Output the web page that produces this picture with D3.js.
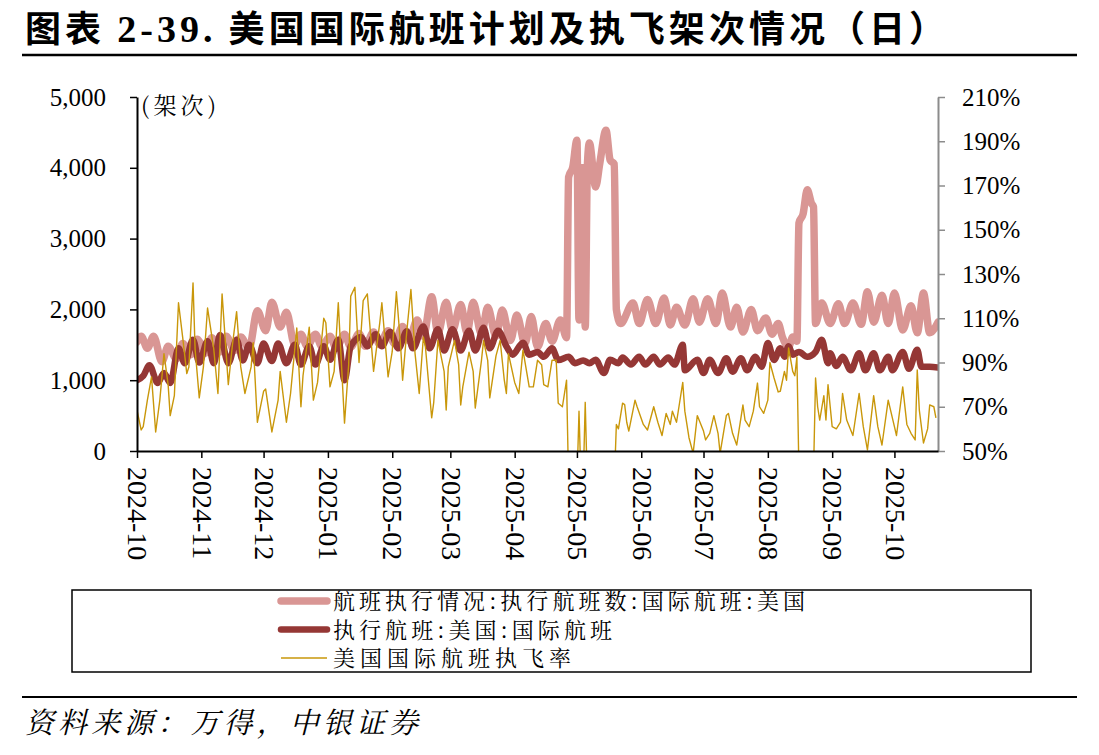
<!DOCTYPE html>
<html><head><meta charset="utf-8">
<script src="https://cdn.jsdelivr.net/npm/d3@7"></script>
<style>body{margin:0;background:#fff}svg{display:block}</style>
</head><body><svg id="c" width="1099" height="755"></svg>
<script>
// ---------- DATA ----------
const titleText = "美国国际航班计划及执飞架次情况（日）";
const seriesNames = ["航班执行情况:执行航班数:国际航班:美国", "执行航班:美国:国际航班", "美国国际航班执飞率"];
const leftTicks = [0, 1000, 2000, 3000, 4000, 5000];
const rightTicks = [50, 70, 90, 110, 130, 150, 170, 190, 210];
const monthTicks = ["2024-10","2024-11","2024-12","2025-01","2025-02","2025-03","2025-04","2025-05","2025-06","2025-07","2025-08","2025-09","2025-10"];

// 航班执行情况:执行航班数:国际航班:美国 (left axis)
const pinkDates = ["2024-10-01","2024-10-03","2024-10-06","2024-10-09","2024-10-13","2024-10-16","2024-10-20","2024-10-23","2024-10-27","2024-10-30",
"2024-11-03","2024-11-06","2024-11-10","2024-11-13","2024-11-17","2024-11-20","2024-11-24","2024-11-28",
"2024-12-02","2024-12-05","2024-12-09","2024-12-12","2024-12-16","2024-12-19","2024-12-22","2024-12-26","2024-12-29",
"2025-01-02","2025-01-05","2025-01-09","2025-01-12","2025-01-16","2025-01-19","2025-01-23","2025-01-26","2025-01-30",
"2025-02-02","2025-02-06","2025-02-09","2025-02-13","2025-02-16","2025-02-20","2025-02-23","2025-02-27",
"2025-03-02","2025-03-06","2025-03-09","2025-03-12","2025-03-16","2025-03-19","2025-03-23","2025-03-26","2025-03-30",
"2025-04-02","2025-04-06","2025-04-09","2025-04-12","2025-04-16","2025-04-19","2025-04-23","2025-04-26",
"2025-04-27","2025-04-29","2025-05-01","2025-05-02","2025-05-03","2025-05-04","2025-05-05","2025-05-06","2025-05-07","2025-05-10","2025-05-12","2025-05-15","2025-05-17","2025-05-19","2025-05-20",
"2025-05-22","2025-05-28","2025-05-31",
"2025-06-04","2025-06-08","2025-06-12","2025-06-15","2025-06-18","2025-06-22","2025-06-26","2025-06-29",
"2025-07-03","2025-07-07","2025-07-10","2025-07-14","2025-07-17","2025-07-20","2025-07-24","2025-07-27","2025-07-31",
"2025-08-03","2025-08-06","2025-08-08","2025-08-11","2025-08-13","2025-08-15","2025-08-16","2025-08-18","2025-08-20","2025-08-22","2025-08-23","2025-08-24","2025-08-27","2025-08-31",
"2025-09-04","2025-09-07","2025-09-11","2025-09-15","2025-09-18","2025-09-21","2025-09-25","2025-09-28",
"2025-10-01","2025-10-05","2025-10-09","2025-10-12","2025-10-15","2025-10-18","2025-10-22"];
const pinkValues = [1540,1620,1450,1620,1260,1480,1300,1520,1360,1580,
1380,1600,1400,1620,1420,1610,1450,1980,
1700,2100,1750,1960,1500,1650,1480,1650,1480,
1620,1450,1650,1470,1660,1480,1680,1500,1700,
1520,1760,1560,1850,1620,2180,1670,2100,
1700,2070,1670,2100,1650,2030,1620,1990,1560,
1920,1520,1900,1470,1800,1550,1850,1600,
3870,4010,4390,1850,4000,4000,1750,4000,4350,3730,4060,4530,4110,4050,2000,
1800,2090,1800,
2140,1800,2160,1780,2030,1780,2150,1820,
2150,1800,2230,1750,2030,1680,2000,1700,1880,
1650,1800,1610,1470,1610,1550,3220,3350,3690,3500,3450,1800,2090,1800,
2080,1800,2090,1790,2250,1820,2200,1800,
2230,1710,2050,1670,2230,1670,1820];

// 执行航班:美国:国际航班 (left axis)
const redDates = ["2024-10-01","2024-10-04","2024-10-07","2024-10-11","2024-10-14","2024-10-17","2024-10-21","2024-10-24","2024-10-28","2024-10-31",
"2024-11-04","2024-11-07","2024-11-10","2024-11-14","2024-11-18","2024-11-21","2024-11-24","2024-11-28",
"2024-12-01","2024-12-05","2024-12-08","2024-12-12","2024-12-16","2024-12-19","2024-12-23","2024-12-26","2024-12-30",
"2025-01-02","2025-01-06","2025-01-09","2025-01-12","2025-01-17","2025-01-20","2025-01-24","2025-01-27","2025-01-31",
"2025-02-04","2025-02-08","2025-02-11","2025-02-16","2025-02-19","2025-02-23","2025-02-26",
"2025-03-02","2025-03-06","2025-03-10","2025-03-13","2025-03-17","2025-03-20","2025-03-24","2025-03-28","2025-03-31",
"2025-04-05","2025-04-08","2025-04-12","2025-04-15","2025-04-19","2025-04-22","2025-04-27","2025-04-30",
"2025-05-04","2025-05-07","2025-05-10","2025-05-14","2025-05-17","2025-05-21","2025-05-23","2025-05-27","2025-05-31",
"2025-06-03","2025-06-07","2025-06-10","2025-06-14","2025-06-17","2025-06-21","2025-06-22","2025-06-28",
"2025-07-01","2025-07-04","2025-07-08","2025-07-12","2025-07-15","2025-07-19","2025-07-22","2025-07-26","2025-07-29",
"2025-08-01","2025-08-04","2025-08-07","2025-08-09","2025-08-11","2025-08-13","2025-08-16","2025-08-20","2025-08-24","2025-08-27","2025-08-30","2025-08-31",
"2025-09-03","2025-09-06","2025-09-10","2025-09-14","2025-09-17","2025-09-21","2025-09-24","2025-09-28","2025-09-30",
"2025-10-05","2025-10-08","2025-10-12","2025-10-14","2025-10-18","2025-10-22"];
const redValues = [1000,1060,1210,960,1100,960,1450,1240,1570,1250,
1550,1240,1640,1240,1570,1280,1500,1240,
1520,1270,1520,1240,1500,1220,1480,1220,1480,
1290,1570,1000,1480,1610,1480,1650,1480,1680,
1450,1690,1450,1760,1450,1720,1420,
1720,1420,1700,1420,1740,1450,1700,1480,1360,
1530,1360,1400,1330,1450,1285,1330,1240,
1280,1240,1290,1100,1290,1240,1320,1220,1330,
1220,1330,1220,1320,1220,1500,1140,1290,
1100,1290,1100,1310,1120,1310,1140,1330,1190,
1525,1285,1450,1330,1480,1360,1400,1330,1400,1570,1240,1380,
1200,1330,1140,1380,1140,1380,1140,1330,1140,
1400,1160,1430,1190,1190,1180];

// 美国国际航班执飞率 (right axis, %)
const rateDates = ["2024-10-01","2024-10-03","2024-10-04","2024-10-06","2024-10-08","2024-10-10","2024-10-12","2024-10-14","2024-10-16","2024-10-17","2024-10-19","2024-10-21","2024-10-23","2024-10-25","2024-10-26","2024-10-28","2024-10-29","2024-10-31",
"2024-11-02","2024-11-04","2024-11-07","2024-11-09","2024-11-11","2024-11-14","2024-11-16","2024-11-18","2024-11-20","2024-11-22","2024-11-25","2024-11-26","2024-11-28",
"2024-12-01","2024-12-02","2024-12-05","2024-12-08","2024-12-09","2024-12-12","2024-12-14","2024-12-17","2024-12-19","2024-12-20","2024-12-23","2024-12-25","2024-12-27","2024-12-30","2024-12-31",
"2025-01-02","2025-01-04","2025-01-06","2025-01-09","2025-01-11","2025-01-12","2025-01-14","2025-01-16","2025-01-18","2025-01-20","2025-01-23","2025-01-26","2025-01-27","2025-01-30",
"2025-02-01","2025-02-03","2025-02-05","2025-02-06","2025-02-08","2025-02-10","2025-02-12","2025-02-14","2025-02-16","2025-02-17","2025-02-20","2025-02-21","2025-02-23","2025-02-26","2025-02-27","2025-02-28",
"2025-03-03","2025-03-05","2025-03-06","2025-03-07","2025-03-10","2025-03-12","2025-03-13","2025-03-16","2025-03-17","2025-03-19","2025-03-20","2025-03-23","2025-03-25","2025-03-27","2025-03-28","2025-03-29",
"2025-04-01","2025-04-03","2025-04-05","2025-04-08","2025-04-10","2025-04-12","2025-04-14","2025-04-15","2025-04-17","2025-04-19","2025-04-21","2025-04-22","2025-04-24","2025-04-26","2025-04-27",
"2025-05-01","2025-05-02","2025-05-03","2025-05-04","2025-05-05","2025-05-06","2025-05-19","2025-05-20","2025-05-21","2025-05-23","2025-05-24","2025-05-25","2025-05-26","2025-05-29","2025-05-30",
"2025-06-02","2025-06-04","2025-06-07","2025-06-09","2025-06-11","2025-06-13","2025-06-15","2025-06-16","2025-06-18","2025-06-21","2025-06-22","2025-06-24","2025-06-26","2025-06-28",
"2025-07-01","2025-07-02","2025-07-04","2025-07-06","2025-07-08","2025-07-09","2025-07-12","2025-07-13","2025-07-15","2025-07-17","2025-07-20","2025-07-21","2025-07-23","2025-07-25","2025-07-27","2025-07-28","2025-07-30",
"2025-08-01","2025-08-02","2025-08-04","2025-08-06","2025-08-07","2025-08-09","2025-08-10","2025-08-11","2025-08-13","2025-08-14","2025-08-15","2025-08-16","2025-08-23","2025-08-24","2025-08-25","2025-08-26","2025-08-28","2025-08-29","2025-08-30",
"2025-09-01","2025-09-03","2025-09-05","2025-09-06","2025-09-08","2025-09-11","2025-09-14","2025-09-16","2025-09-18","2025-09-21","2025-09-23","2025-09-25","2025-09-28",
"2025-10-01","2025-10-02","2025-10-05","2025-10-07","2025-10-09","2025-10-11","2025-10-12","2025-10-13","2025-10-15","2025-10-17","2025-10-18","2025-10-20","2025-10-21"];
const rateValues = [68.5,59.5,61,73,83.5,58.6,73,94,80,66,75,117,101.5,85,88,126,96,74,
88,114.6,96,76,121,80,98,113,88,76,88,99,63,
77,78,58.6,73,86,63,76,105.6,70,84,106,73,81,110,108,
79,86,117,62.6,89,120,124,90,118,121,86,108,117,83.5,
95,122,98,82,104,123,94,76,101.5,97,65,72,100,86,68.5,88,
100,89,70.8,79,94.7,86,69.4,91,100,91,74,93,100,82,76,94,
81,76,95.6,79,79,91,89,80,79,91,91,71.6,70,82,35,
35,68,35,35,72,35,35,62,60,71.6,71,63,59,73,70,
62,59.5,70,63,57,67,62,68,63,81,68,56,49,66,
59,55,58,66,58,49,66,67,58,52.7,70.8,64,61,68,80.7,70,67,
73,90,83,76.7,77,86,82,96.6,86,84,92.5,40,40,83,70,64,75,64,80,
61,60,63,76,64,57,76,61,50.5,75,61,52.7,73,
61,57,79,62,58,55,86.6,68.5,53.6,60,70.8,70,65];

// ---------- CHART ----------
const svg = d3.select("#c");
const W = 1099, H = 755;
const L = 137, R = 938, T = 97, B = 451;
const parse = d3.timeParse("%Y-%m-%d");
const parseM = d3.timeParse("%Y-%m");
const serif = "'Liberation Serif','Times New Roman',serif";
const cjk = "'Noto Serif CJK SC','Noto Sans CJK SC',sans-serif";

svg.append("rect").attr("width", W).attr("height", H).attr("fill", "#fff");

const zip = (ds, vs) => ds.slice(0, Math.min(ds.length, vs.length)).map((d, i) => ({date: parse(d), v: vs[i]}));
const pink = zip(pinkDates, pinkValues);
const red = zip(redDates, redValues);
const rate = zip(rateDates, rateValues);

const x = d3.scaleTime().domain([parse("2024-10-01"), parse("2025-10-22")]).range([L, R]);
const yL = d3.scaleLinear().domain([0, 5000]).range([B, T]);
const yR = d3.scaleLinear().domain([50, 210]).range([B, T]);

// title
const title = svg.append("text").attr("x", 25).attr("y", 42)
  .attr("font-family", "'Noto Sans CJK SC',sans-serif").attr("font-weight", "bold").attr("font-size", 36)
  .attr("fill", "#000").attr("textLength", 920).attr("lengthAdjust", "spacing");
title.append("tspan").text("图表 ");
title.append("tspan").attr("font-family", serif).attr("font-size", 38).text("2-39.");
title.append("tspan").text(" " + titleText);

svg.append("line").attr("x1", 22).attr("x2", 1077).attr("y1", 55).attr("y2", 55).attr("stroke", "#000").attr("stroke-width", 2.5);
svg.append("line").attr("x1", 22).attr("x2", 1077).attr("y1", 697).attr("y2", 697).attr("stroke", "#000").attr("stroke-width", 2);

svg.append("text").attr("x", 25).attr("y", 733).attr("font-family", cjk).attr("font-style", "italic")
  .attr("font-size", 29).attr("fill", "#000").attr("textLength", 393).attr("lengthAdjust", "spacing")
  .text("资料来源：万得，中银证券");

// clip
svg.append("clipPath").attr("id", "plot").append("rect").attr("x", L).attr("y", T - 10).attr("width", R - L).attr("height", B - T + 10);

const g = svg.append("g").attr("clip-path", "url(#plot)");
g.append("path").datum(pink).attr("fill", "none").attr("stroke", "#D99694").attr("stroke-width", 7.5)
  .attr("stroke-linejoin", "round").attr("stroke-linecap", "round")
  .attr("d", d3.line().x(d => x(d.date)).y(d => yL(d.v)).curve(d3.curveMonotoneX));
g.append("path").datum(red).attr("fill", "none").attr("stroke", "#953735").attr("stroke-width", 6.5)
  .attr("stroke-linejoin", "round").attr("stroke-linecap", "round")
  .attr("d", d3.line().x(d => x(d.date)).y(d => yL(d.v)).curve(d3.curveMonotoneX));
g.append("path").datum(rate).attr("fill", "none").attr("stroke", "#C9970A").attr("stroke-width", 1.4)
  .attr("stroke-linejoin", "round")
  .attr("d", d3.line().x(d => x(d.date)).y(d => yR(d.v)));

// left axis
const ax = svg.append("g").attr("transform", `translate(${L},0)`)
  .call(d3.axisLeft(yL).tickValues(leftTicks).tickFormat(d3.format(",")).tickSize(7).tickSizeOuter(0).tickPadding(24));
ax.select(".domain").attr("stroke", "#000").attr("stroke-width", 2);
ax.selectAll(".tick line").attr("stroke", "#000").attr("stroke-width", 1.5);
ax.selectAll(".tick text").attr("font-family", serif).attr("font-size", 25).attr("fill", "#000");

// right axis
const ar = svg.append("g").attr("transform", `translate(${R},0)`)
  .call(d3.axisRight(yR).tickValues(rightTicks).tickFormat(d => d + "%").tickSize(7).tickSizeOuter(0).tickPadding(17));
ar.select(".domain").attr("stroke", "#8c8c8c").attr("stroke-width", 2);
ar.selectAll(".tick line").attr("stroke", "#8c8c8c").attr("stroke-width", 1.5);
ar.selectAll(".tick text").attr("font-family", serif).attr("font-size", 25).attr("fill", "#000");

// bottom axis
const ab = svg.append("g").attr("transform", `translate(0,${B})`)
  .call(d3.axisBottom(x).tickValues(monthTicks.map(parseM)).tickFormat(d3.timeFormat("%Y-%m")).tickSize(7).tickSizeOuter(0));
ab.select(".domain").attr("stroke", "#000").attr("stroke-width", 2);
ab.selectAll(".tick line").attr("stroke", "#000").attr("stroke-width", 1.5);
ab.selectAll(".tick text").attr("font-family", serif).attr("font-size", 28).attr("fill", "#000")
  .attr("text-anchor", "start").attr("transform", "translate(0,16) rotate(90)").attr("x", 0).attr("y", 0).attr("dy", "0.33em");

// unit label
svg.append("text").attr("x", 141).attr("y", 114).attr("font-family", cjk).attr("font-size", 23).attr("fill", "#000")
  .attr("textLength", 75).attr("lengthAdjust", "spacing").text("(架次)");

// legend
svg.append("rect").attr("x", 72).attr("y", 590).attr("width", 959).attr("height", 82)
  .attr("fill", "none").attr("stroke", "#000").attr("stroke-width", 1.5);
const legColors = ["#D99694", "#953735", "#C9970A"];
const legWidths = [7.5, 6.5, 1.4];
const legRows = [601, 629.5, 658];
const legLens = [472, 279, 238];
seriesNames.forEach((name, i) => {
  svg.append("line").attr("x1", 281).attr("x2", 327).attr("y1", legRows[i]).attr("y2", legRows[i])
    .attr("stroke", legColors[i]).attr("stroke-width", legWidths[i]).attr("stroke-linecap", i < 2 ? "round" : "butt");
  svg.append("text").attr("x", 333).attr("y", legRows[i] + 8).attr("font-family", cjk).attr("font-size", 22)
    .attr("fill", "#000").attr("textLength", legLens[i]).attr("lengthAdjust", "spacing").text(name);
});
</script></body></html>
